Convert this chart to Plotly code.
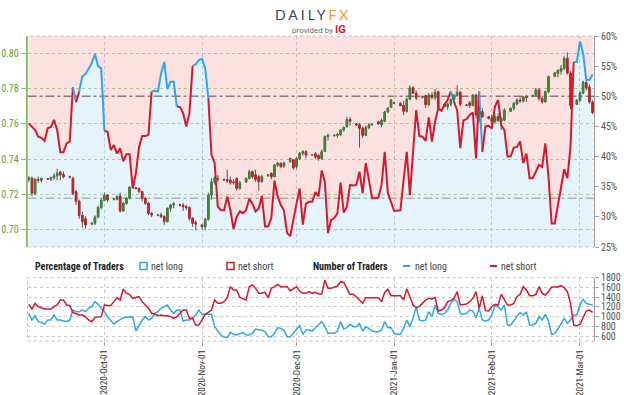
import plotly.graph_objects as go
import pandas as pd

# ---------------- data ----------------
START = "2020-09-07"
END = "2021-03-05"

# IG client sentiment: % of traders net long (daily)
net_long_pct = [
    45.5, 44.9, 44.4, 43.3, 43.1, 42.6, 44.7, 44.9, 46.1, 44.4,
    40.7, 40.7, 42.2, 42.5, 51.5, 49.0, 50.8, 53.3, 53.7, 54.5,
    55.5, 57.0, 55.0, 54.6, 44.3, 44.1, 41.1, 41.9, 40.5, 41.4,
    39.2, 40.4, 40.4, 34.7, 37.2, 41.6, 43.4, 43.4, 43.6, 50.8,
    50.9, 50.8, 53.8, 55.7, 51.2, 52.4, 52.4, 48.3, 48.2, 47.2,
    45.0, 47.2, 55.0, 55.3, 56.0, 56.2, 54.6, 49.7, 40.3, 38.9,
    31.7, 31.1, 31.1, 33.4, 31.1, 28.0, 30.0, 30.9, 30.6, 31.1,
    33.0, 32.2, 30.9, 31.4, 33.5, 28.4, 28.4, 29.8, 36.0, 33.4,
    32.0, 31.1, 27.3, 26.8, 29.8, 32.2, 34.7, 28.7, 32.2, 32.5,
    32.5, 34.1, 33.4, 37.7, 35.8, 27.3, 29.5, 29.8, 30.6, 35.7,
    30.7, 31.7, 35.3, 35.2, 35.3, 37.5, 33.9, 38.9, 36.1, 33.1,
    33.1, 33.2, 35.3, 40.8, 33.9, 32.5, 31.0, 31.0, 31.1, 36.1,
    40.8, 33.6, 40.3, 47.7, 43.4, 43.3, 42.6, 46.5, 42.5, 45.8,
    48.0, 47.6, 48.6, 49.4, 50.8, 49.1, 47.7, 41.4, 46.0, 46.2,
    46.9, 47.3, 39.7, 50.8, 40.8, 45.0, 45.1, 44.7, 48.3, 49.4,
    45.2, 44.4, 40.0, 40.0, 41.5, 41.6, 42.5, 38.9, 40.5, 36.4,
    36.4, 37.5, 38.6, 38.3, 42.2, 36.7, 28.9, 28.9, 31.7, 34.5,
    37.9, 36.4, 41.6, 55.7, 55.7, 59.1, 57.1, 52.7, 52.7, 53.6,
]

# number of traders (daily)
traders_long = [
    1068, 931, 1020, 897, 883, 842, 931, 931, 1034, 931,
    931, 917, 897, 931, 1136, 1102, 1102, 1136, 1102, 1171,
    1205, 1308, 1253, 1171, 1102, 1000, 931, 849, 897, 931,
    979, 993, 993, 1000, 705, 828, 931, 1000, 931, 965,
    1068, 1102, 1171, 1205, 1239, 1136, 1068, 1136, 1136, 910,
    931, 931, 965, 1034, 1136, 1047, 1047, 1047, 1047, 794,
    705, 623, 582, 568, 678, 637, 623, 644, 678, 623,
    623, 657, 746, 726, 726, 691, 589, 589, 657, 774,
    760, 726, 589, 589, 657, 726, 815, 637, 726, 726,
    705, 774, 828,
    897, 794, 657, 657, 657, 705, 897, 746, 774, 842,
    794, 794, 862, 705, 794, 760, 705, 691, 691, 726,
    897, 774, 774, 657, 637, 637, 760, 931, 794, 965,
    1205, 931, 910, 931, 1102, 1000, 1239, 1068, 1047, 1068,
    1136, 1273, 1355, 1308, 1068, 1047, 1068, 1136, 1116, 979,
    1171, 931, 910, 931, 1034, 1225, 1205, 1136, 1239, 828,
    828, 910, 1013, 1082, 1034, 1102, 828, 828, 862, 1000,
    931, 1047, 910, 637, 657, 746, 862, 965, 862, 931,
    1034, 1034, 1239, 1355, 1273, 1253, 1239,
]
traders_short = [
    1253, 1157, 1273, 1205, 1184, 1157, 1157, 1157, 1205, 1239,
    1342, 1342, 1239, 1225, 1089, 1068, 1034, 1034, 1000, 931,
    897, 986, 1000, 1000, 1239, 1239, 1225, 1308, 1390, 1342,
    1568, 1479, 1458, 1376, 1397, 1410, 1308, 1239, 1171, 1068,
    1054, 1020, 1034, 1020, 1020, 1000, 965, 1000, 1068, 1136,
    1136, 965, 965, 828, 828, 931, 1047, 1089, 1136, 1342,
    1273, 1273, 1308, 1390, 1616, 1547, 1547, 1397, 1376, 1342,
    1616, 1650, 1581, 1479, 1479, 1499, 1390, 1581, 1616, 1664,
    1616, 1616, 1616, 1527, 1581, 1616, 1527, 1479, 1479, 1513,
    1479, 1499, 1465,
    1465, 1753, 1581, 1581, 1602, 1629, 1718, 1705, 1581, 1458,
    1458, 1410, 1342, 1273, 1390, 1390, 1390, 1390, 1390, 1308,
    1499, 1561, 1431, 1431, 1431, 1431, 1342, 1568, 1410, 1239,
    1184, 1205, 1273, 1342, 1376, 1362, 1390, 1116, 1136, 1184,
    1308, 1328, 1376, 1513, 1239, 1253, 1260, 1308, 1376, 1513,
    1171, 1431, 1123, 1116, 1205, 1253, 1239, 1458, 1342, 1239,
    1239, 1273, 1410, 1458, 1616, 1547, 1431, 1431, 1458, 1616,
    1479, 1445, 1513, 1609, 1609, 1609, 1636, 1595, 1513, 1273,
    828, 815, 842, 979, 1116, 1136, 1089,
]

# AUD/USD daily candles (Sun-Fri sessions)
opens = [
    0.7285, 0.7292, 0.7205, 0.7285, 0.7280, 0.7288, 0.7286, 0.7295, 0.7305, 0.7325,
    0.7312, 0.7300, 0.7290, 0.7215, 0.7160, 0.7080, 0.7060, 0.7030, 0.7035, 0.7070,
    0.7125, 0.7165, 0.7195, 0.7170, 0.7172, 0.7190, 0.7105, 0.7148, 0.7177, 0.7238,
    0.7232, 0.7215, 0.7177, 0.7150, 0.7091, 0.7080, 0.7082, 0.7073, 0.7044, 0.7120,
    0.7139, 0.7140, 0.7138, 0.7129, 0.7125, 0.7063, 0.7040, 0.7025, 0.7015, 0.7058,
    0.7195, 0.7270, 0.7290, 0.7280, 0.7284, 0.7280, 0.7265, 0.7290, 0.7234, 0.7270,
    0.7290, 0.7328, 0.7310, 0.7300, 0.7272, 0.7305, 0.7319, 0.7300, 0.7366, 0.7376,
    0.7360, 0.7385, 0.7395, 0.7357, 0.7404, 0.7433, 0.7442, 0.7423, 0.7430, 0.7420,
    0.7404, 0.7445, 0.7528, 0.7533, 0.7535, 0.7540, 0.7565, 0.7584, 0.7625, 0.7600,
    0.7595, 0.7575, 0.7535, 0.7580, 0.7595, 0.7612, 0.7594, 0.7615, 0.7668, 0.7695,
    0.7720, 0.7717, 0.7705, 0.7672, 0.7740, 0.7805, 0.7774, 0.7752, 0.7760, 0.7710,
    0.7764, 0.7750, 0.7783, 0.7712, 0.7698, 0.7712, 0.7738, 0.7762, 0.7780, 0.7708,
    0.7720, 0.7705, 0.7764, 0.7651, 0.7670, 0.7640, 0.7632, 0.7613, 0.7641, 0.7615,
    0.7622, 0.7672, 0.7689, 0.7713, 0.7736, 0.7730, 0.7755, 0.7758, 0.7764, 0.7793,
    0.7745, 0.7726, 0.7783, 0.7870, 0.7888, 0.7900, 0.7915, 0.7973, 0.7890, 0.7712,
    0.7735, 0.7775, 0.7835, 0.7810, 0.7725,
]
highs = [
    0.7302, 0.7300, 0.7292, 0.7300, 0.7295, 0.7292, 0.7300, 0.7320, 0.7345, 0.7335,
    0.7330, 0.7305, 0.7300, 0.7225, 0.7170, 0.7100, 0.7075, 0.7040, 0.7080, 0.7135,
    0.7175, 0.7210, 0.7200, 0.7178, 0.7195, 0.7210, 0.7155, 0.7185, 0.7245, 0.7240,
    0.7240, 0.7220, 0.7185, 0.7155, 0.7100, 0.7085, 0.7095, 0.7080, 0.7125, 0.7145,
    0.7155, 0.7145, 0.7150, 0.7140, 0.7130, 0.7070, 0.7050, 0.7030, 0.7065, 0.7210,
    0.7290, 0.7300, 0.7310, 0.7290, 0.7340, 0.7300, 0.7285, 0.7295, 0.7275, 0.7295,
    0.7340, 0.7335, 0.7340, 0.7310, 0.7310, 0.7315, 0.7325, 0.7370, 0.7385, 0.7380,
    0.7385, 0.7408, 0.7400, 0.7410, 0.7440, 0.7450, 0.7450, 0.7428, 0.7440, 0.7430,
    0.7455, 0.7535, 0.7545, 0.7540, 0.7550, 0.7570, 0.7585, 0.7640, 0.7640, 0.7605,
    0.7605, 0.7585, 0.7590, 0.7605, 0.7600, 0.7618, 0.7630, 0.7675, 0.7695, 0.7742,
    0.7725, 0.7722, 0.7730, 0.7750, 0.7820, 0.7815, 0.7790, 0.7760, 0.7765, 0.7775,
    0.7780, 0.7800, 0.7790, 0.7718, 0.7720, 0.7745, 0.7770, 0.7820, 0.7790, 0.7712,
    0.7730, 0.7770, 0.7770, 0.7700, 0.7690, 0.7645, 0.7650, 0.7660, 0.7660, 0.7640,
    0.7690, 0.7692, 0.7725, 0.7745, 0.7755, 0.7760, 0.7765, 0.7765, 0.7805, 0.7805,
    0.7760, 0.7790, 0.7875, 0.7895, 0.7910, 0.7935, 0.7985, 0.8007, 0.7900, 0.7740,
    0.7785, 0.7845, 0.7845, 0.7825, 0.7735,
]
lows = [
    0.7270, 0.7190, 0.7195, 0.7265, 0.7265, 0.7282, 0.7275, 0.7280, 0.7280, 0.7280,
    0.7290, 0.7292, 0.7195, 0.7140, 0.7060, 0.7010, 0.7005, 0.7025, 0.7025, 0.7065,
    0.7115, 0.7160, 0.7155, 0.7165, 0.7165, 0.7095, 0.7100, 0.7140, 0.7170, 0.7228,
    0.7205, 0.7160, 0.7140, 0.7080, 0.7070, 0.7075, 0.7065, 0.7025, 0.7040, 0.7100,
    0.7120, 0.7130, 0.7105, 0.7110, 0.7050, 0.7015, 0.6995, 0.7000, 0.6995, 0.7050,
    0.7170, 0.7255, 0.7270, 0.7275, 0.7265, 0.7255, 0.7255, 0.7220, 0.7225, 0.7265,
    0.7285, 0.7290, 0.7270, 0.7220, 0.7265, 0.7300, 0.7285, 0.7295, 0.7355, 0.7350,
    0.7350, 0.7380, 0.7340, 0.7345, 0.7395, 0.7420, 0.7405, 0.7418, 0.7400, 0.7390,
    0.7395, 0.7440, 0.7505, 0.7528, 0.7520, 0.7530, 0.7555, 0.7580, 0.7590, 0.7590,
    0.7465, 0.7520, 0.7530, 0.7570, 0.7590, 0.7595, 0.7580, 0.7610, 0.7660, 0.7690,
    0.7712, 0.7700, 0.7650, 0.7665, 0.7735, 0.7770, 0.7735, 0.7745, 0.7690, 0.7700,
    0.7740, 0.7736, 0.7680, 0.7695, 0.7680, 0.7700, 0.7725, 0.7755, 0.7700, 0.7700,
    0.7690, 0.7700, 0.7630, 0.7610, 0.7635, 0.7625, 0.7595, 0.7600, 0.7610, 0.7565,
    0.7615, 0.7668, 0.7675, 0.7705, 0.7720, 0.7720, 0.7725, 0.7755, 0.7760, 0.7730,
    0.7715, 0.7720, 0.7775, 0.7865, 0.7865, 0.7880, 0.7905, 0.7880, 0.7685, 0.7708,
    0.7725, 0.7770, 0.7790, 0.7715, 0.7655,
]
closes = [
    0.7292, 0.7205, 0.7285, 0.7280, 0.7290, 0.7286, 0.7295, 0.7305, 0.7320, 0.7310,
    0.7300, 0.7298, 0.7205, 0.7160, 0.7080, 0.7045, 0.7025, 0.7035, 0.7070, 0.7125,
    0.7165, 0.7195, 0.7168, 0.7172, 0.7186, 0.7105, 0.7148, 0.7177, 0.7240, 0.7232,
    0.7215, 0.7177, 0.7148, 0.7091, 0.7082, 0.7082, 0.7073, 0.7044, 0.7120, 0.7139,
    0.7146, 0.7138, 0.7129, 0.7125, 0.7063, 0.7035, 0.7030, 0.7015, 0.7058, 0.7195,
    0.7270, 0.7290, 0.7285, 0.7284, 0.7275, 0.7265, 0.7270, 0.7234, 0.7265, 0.7290,
    0.7328, 0.7300, 0.7285, 0.7272, 0.7300, 0.7310, 0.7300, 0.7366, 0.7376, 0.7357,
    0.7378, 0.7404, 0.7350, 0.7404, 0.7433, 0.7442, 0.7423, 0.7425, 0.7412, 0.7404,
    0.7442, 0.7528, 0.7535, 0.7535, 0.7540, 0.7565, 0.7580, 0.7625, 0.7615, 0.7594,
    0.7575, 0.7535, 0.7580, 0.7595, 0.7598, 0.7600, 0.7620, 0.7668, 0.7690, 0.7736,
    0.7718, 0.7704, 0.7672, 0.7740, 0.7805, 0.7774, 0.7748, 0.7755, 0.7710, 0.7764,
    0.7750, 0.7780, 0.7690, 0.7700, 0.7712, 0.7738, 0.7762, 0.7780, 0.7712, 0.7706,
    0.7705, 0.7764, 0.7651, 0.7670, 0.7641, 0.7632, 0.7613, 0.7641, 0.7620, 0.7632,
    0.7679, 0.7689, 0.7717, 0.7736, 0.7730, 0.7755, 0.7750, 0.7762, 0.7793, 0.7745,
    0.7726, 0.7783, 0.7868, 0.7890, 0.7905, 0.7915, 0.7973, 0.7890, 0.7705, 0.7735,
    0.7775, 0.7838, 0.7805, 0.7725, 0.7665,
]

month_ticks = ["2020-10-01", "2020-11-01", "2020-12-01", "2021-01-01", "2021-02-01", "2021-03-01"]
price_ticks = [0.70, 0.72, 0.74, 0.76, 0.78, 0.80]
pct_ticks = [25, 30, 35, 40, 45, 50, 55, 60]
count_ticks = [600, 800, 1000, 1200, 1400, 1600, 1800]

# ---------------- styling ----------------
X_RANGE = ["2020-09-06 14:00", "2021-03-05 11:00"]
PCT_RANGE = [25, 60]
PRICE_RANGE = [0.69, 0.81]
COUNT_RANGE = [500, 1800]
NEUTRAL = 50
SUPPORT_PCT = 33.1

BLUE = "#2fa6e6"
RED = "#d3192f"
BLUE_FILL = "rgba(125,195,235,0.20)"
PINK_FILL = "rgba(240,120,120,0.22)"
GREEN = "#5f9e3c"
FONT = "Liberation Sans Narrow, Arial Narrow, Roboto Condensed, Roboto, sans-serif"

W, H = 624, 395
XDOM = [27.5 / W, 594 / W]
TOP_DOM = [1 - 247 / H, 1 - 36 / H]
BOT_DOM = [1 - 341 / H, 1 - 277.7 / H]

days = pd.date_range(START, periods=len(net_long_pct), freq="D")
candle_days = [d for d in pd.date_range(START, END, freq="D") if d.weekday() != 5]
assert len(candle_days) == len(opens) == len(highs) == len(lows) == len(closes)
assert len(traders_long) == len(traders_short) == len(days)

fig = go.Figure()

# sentiment area fills
fig.add_trace(go.Scatter(x=days, y=net_long_pct, mode="lines", line=dict(width=0),
                         fill="tozeroy", fillcolor=BLUE_FILL, hoverinfo="skip",
                         xaxis="x", yaxis="y", showlegend=False))
fig.add_trace(go.Scatter(x=days, y=[PCT_RANGE[1]] * len(days), mode="lines", line=dict(width=0),
                         fill="tonexty", fillcolor=PINK_FILL, hoverinfo="skip",
                         xaxis="x", yaxis="y", showlegend=False))

# sentiment line split into blue (net long majority) / red runs
runs = []
for i in range(len(days) - 1):
    col = BLUE if net_long_pct[i] > NEUTRAL else RED
    if runs and runs[-1][0] == col:
        runs[-1][1].append(i + 1)
    else:
        runs.append([col, [i, i + 1]])
for col, idx in runs:
    fig.add_trace(go.Scatter(x=[days[k] for k in idx], y=[net_long_pct[k] for k in idx],
                             mode="lines", line=dict(color=col, width=2),
                             xaxis="x", yaxis="y", showlegend=False, hoverinfo="skip"))

# candles: wick layer (grey) + coloured bodies
fig.add_trace(go.Candlestick(x=candle_days, open=opens, high=highs, low=lows, close=closes,
                             increasing=dict(line=dict(color="#555555", width=1), fillcolor="#555555"),
                             decreasing=dict(line=dict(color="#555555", width=1), fillcolor="#555555"),
                             whiskerwidth=0, xaxis="x", yaxis="y2", showlegend=False, hoverinfo="skip"))
body_hi = [max(o, c) for o, c in zip(opens, closes)]
body_lo = [min(o, c) for o, c in zip(opens, closes)]
fig.add_trace(go.Candlestick(x=candle_days, open=opens, high=body_hi, low=body_lo, close=closes,
                             increasing=dict(line=dict(color="#3a8a2c", width=0.6), fillcolor="#3a8a2c"),
                             decreasing=dict(line=dict(color="#d7191c", width=0.6), fillcolor="#d7191c"),
                             whiskerwidth=0, xaxis="x", yaxis="y2", showlegend=False, hoverinfo="skip"))

# number of traders
fig.add_trace(go.Scatter(x=days, y=traders_long, mode="lines", line=dict(color=BLUE, width=1.5),
                         xaxis="x2", yaxis="y3", showlegend=False, hoverinfo="skip"))
fig.add_trace(go.Scatter(x=days, y=traders_short, mode="lines", line=dict(color=RED, width=1.5),
                         xaxis="x2", yaxis="y3", showlegend=False, hoverinfo="skip"))

grid_grey = "#c8c8c8"
fig.update_layout(
    width=W, height=H, margin=dict(l=0, r=0, t=0, b=0, autoexpand=False),
    paper_bgcolor="white", plot_bgcolor="rgba(0,0,0,0)",
    font=dict(family=FONT, size=9, color="#555"),
    showlegend=False,
    xaxis=dict(domain=XDOM, range=X_RANGE, anchor="y", tickvals=month_ticks, showticklabels=False,
               ticks="", showgrid=True, gridcolor=grid_grey, griddash="dot", zeroline=False,
               showline=False, rangeslider=dict(visible=False), automargin=False),
    yaxis=dict(domain=TOP_DOM, range=PCT_RANGE, anchor="x", side="right", tickvals=pct_ticks,
               ticktext=[f"{v}%" for v in pct_ticks],
               showline=True, linecolor="#a0a0a0", ticks="outside", ticklen=4,
               tickcolor="#a0a0a0", showgrid=False, zeroline=False, automargin=False,
               tickfont=dict(size=10, color="#555")),
    yaxis2=dict(overlaying="y", anchor="x", side="left", range=PRICE_RANGE, tickvals=price_ticks,
                tickformat=".2f", showline=True, linecolor="#8cc06a", linewidth=1.5, ticks="outside",
                ticklen=5, tickcolor="#8cc06a", tickfont=dict(size=10, color=GREEN), automargin=False,
                showgrid=True, gridcolor="#b3cb98", griddash="dot", zeroline=False),
    xaxis2=dict(domain=XDOM, range=X_RANGE, anchor="y3", tickvals=month_ticks, tickformat="%Y-%b-%d",
                tickangle=-90, ticks="outside", ticklen=4, tickcolor="#a0a0a0", showgrid=True,
                gridcolor=grid_grey, griddash="dot", zeroline=False, showline=False, automargin=False,
                tickfont=dict(size=9.3, color="#333")),
    yaxis3=dict(domain=BOT_DOM, range=COUNT_RANGE, anchor="x2", side="right", tickvals=count_ticks,
                showline=True, linecolor="#a0a0a0", ticks="outside", ticklen=4, tickcolor="#a0a0a0",
                showgrid=True, gridcolor=grid_grey, griddash="dot", zeroline=False, automargin=False,
                tickfont=dict(size=10, color="#555")),
)

shapes = [
    dict(type="rect", xref="x domain", yref="y domain", x0=0, x1=1, y0=0, y1=1,
         line=dict(color="#c0c0c0", width=1, dash="dot"), layer="below"),
    dict(type="rect", xref="x2 domain", yref="y3 domain", x0=0, x1=1, y0=0, y1=1,
         line=dict(color="#c0c0c0", width=1, dash="dot"), layer="below"),
    dict(type="line", xref="x domain", yref="y", x0=0, x1=1, y0=NEUTRAL, y1=NEUTRAL,
         line=dict(color="#777777", width=1.5, dash="dashdot"), layer="below"),
    dict(type="line", xref="x domain", yref="y", x0=0, x1=1, y0=SUPPORT_PCT, y1=SUPPORT_PCT,
         line=dict(color="#8a8a8a", width=1, dash="dashdot"), layer="below"),
]

# legend row
LEG_Y = 1 - 266 / H
def px(x):
    return x / W
def py(y):
    return 1 - y / H

shapes += [
    dict(type="rect", xref="paper", yref="paper", x0=px(140), x1=px(147), y0=py(269.5), y1=py(262.5),
         line=dict(color=BLUE, width=1.5), fillcolor="white"),
    dict(type="rect", xref="paper", yref="paper", x0=px(227), x1=px(234), y0=py(269.5), y1=py(262.5),
         line=dict(color=RED, width=1.5), fillcolor="white"),
    dict(type="line", xref="paper", yref="paper", x0=px(403), x1=px(410), y0=LEG_Y, y1=LEG_Y,
         line=dict(color=BLUE, width=2)),
    dict(type="line", xref="paper", yref="paper", x0=px(490), x1=px(497), y0=LEG_Y, y1=LEG_Y,
         line=dict(color=RED, width=2)),
]
fig.update_layout(shapes=shapes)

ann = []
def text(x, y, s, size=10, color="#444", anchor="left"):
    ann.append(dict(x=px(x), y=py(y), xref="paper", yref="paper", text=s, showarrow=False,
                    xanchor=anchor, yanchor="middle", font=dict(size=size, color=color, family=FONT)))

text(33, 266, "<b>Percentage of Traders</b>", 10, "#222")
text(149, 266, "net long", 10, "#444")
text(236, 266, "net short", 10, "#444")
text(311, 266, "<b>Number of Traders</b>", 10, "#222")
text(413, 266, "net long", 10, "#444")
text(499, 266, "net short", 10, "#444")

# logo
ann.append(dict(x=px(313), y=py(15), xref="paper", yref="paper", showarrow=False,
                xanchor="center", yanchor="middle",
                text='<span style="letter-spacing:3px">DAILY</span><span style="letter-spacing:3px;color:#f7941d">FX</span>',
                font=dict(size=14, color="#3d4753", family="Lato, Roboto, sans-serif")))
ann.append(dict(x=px(319), y=py(30), xref="paper", yref="paper", showarrow=False,
                xanchor="center", yanchor="middle",
                text='provided by <b><span style="color:#e8112d;font-size:11px">IG</span></b>',
                font=dict(size=8, color="#666", family="Roboto, sans-serif")))
fig.update_layout(annotations=ann)

fig.write_html("out.html", config={"displayModeBar": False},
               post_script="document.body.style.margin='0';document.body.style.overflow='hidden';")
